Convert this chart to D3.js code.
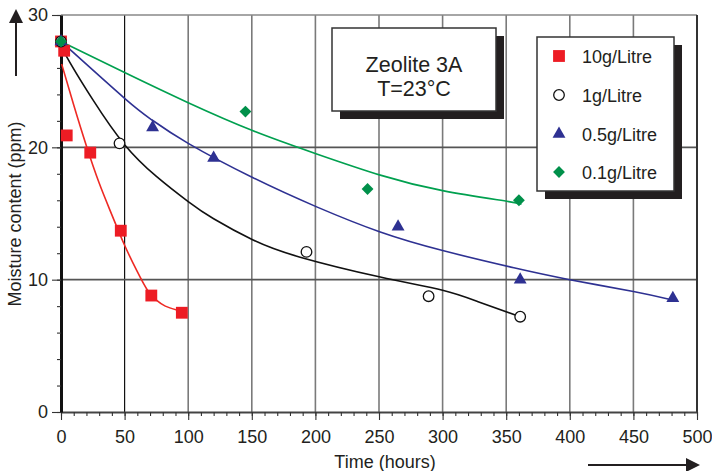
<!DOCTYPE html>
<html><head><meta charset="utf-8">
<script src="https://cdn.jsdelivr.net/npm/d3@7"></script>
<style>
html,body{margin:0;padding:0;background:#fff;}
svg{display:block;font-family:"Liberation Sans",Arial,Helvetica,sans-serif;}
</style></head><body>
<svg id="chart" width="712" height="471"></svg>
<script>
// Axis ticks
const xTickValues = [0, 50, 100, 150, 200, 250, 300, 350, 400, 450, 500];
const yTickValues = [0, 10, 20, 30];
const xLabel = "Time (hours)";
const yLabel = "Moisture content (ppm)";
const titleLines = ["Zeolite 3A", "T=23\u00b0C"];
const seriesLabels = ["10g/Litre", "1g/Litre", "0.5g/Litre", "0.1g/Litre"];

// Measured moisture content, [hours, ppm]
const points10 = [[0, 28], [2.5, 27.3], [4.5, 20.9], [23, 19.6], [47, 13.7], [71, 8.8], [95, 7.5]];
const points1 = [[0, 28], [46, 20.3], [193, 12.1], [289, 8.75], [361, 7.2]];
const points05 = [[0, 28], [72, 21.5], [120, 19.2], [265, 14.0], [361, 10.0], [481, 8.6]];
const points01 = [[0, 28], [145, 22.7], [241, 16.85], [360, 16.0]];

// Trend curves, [hours, ppm]
const trend10 = [[0.5, 26.3], [10, 23.2], [20, 20.1], [30, 17.3], [40, 14.9], [50, 12.6], [60, 10.6], [68, 9.2], [75, 8.45], [82, 8.0], [91, 7.7]];
const trend1 = [[0, 28], [3, 27.1], [25, 23.6], [50, 20.2], [75, 17.8], [100, 15.9], [120, 14.6], [151, 13.0], [188, 11.7], [251, 10.2], [300, 9.2], [329, 8.3], [361, 7.2]];
const trend05 = [[0, 28], [50, 23.7], [71, 22.1], [100, 20.3], [151, 17.7], [201, 15.5], [251, 13.6], [300, 12.2], [356, 10.9], [400, 10.0], [450, 9.1], [479, 8.5]];
const trend01 = [[0, 28], [50, 25.65], [100, 23.37], [151, 21.25], [201, 19.5], [251, 17.9], [300, 16.73], [352, 15.9], [361, 15.7]];

const svg = d3.select("#chart");
const x = d3.scaleLinear().domain([0, 500]).range([61, 697]);
const y = d3.scaleLinear().domain([0, 30]).range([412, 15]);

const styles = [
  {pts: points10, trend: trend10, line: "#ee2a24", fill: "#ed1c24", stroke: "none", shape: "square"},
  {pts: points1, trend: trend1, line: "#111", fill: "#fff", stroke: "#111", shape: "circle"},
  {pts: points05, trend: trend05, line: "#2e3192", fill: "#2e3192", stroke: "none", shape: "triangle"},
  {pts: points01, trend: trend01, line: "#00a04f", fill: "#00904a", stroke: "none", shape: "diamond"}
];

// Grid
const grid = svg.append("g");
grid.selectAll("line.v").data(xTickValues.filter(d => d > 0 && d < 500)).join("line")
  .attr("x1", d => x(d)).attr("x2", d => x(d)).attr("y1", y(30)).attr("y2", y(0))
  .attr("stroke", d => d === 50 ? "#111" : "#7a7a7a")
  .attr("stroke-width", d => d === 50 ? 1.2 : 1.6);
grid.selectAll("line.h").data(yTickValues.filter(d => d > 0 && d < 30)).join("line")
  .attr("x1", x(0)).attr("x2", x(500)).attr("y1", d => y(d)).attr("y2", d => y(d))
  .attr("stroke", "#555").attr("stroke-width", 1.6);
// top and right frame
grid.append("line").attr("x1", x(0)).attr("x2", x(500)).attr("y1", y(30)).attr("y2", y(30))
  .attr("stroke", "#888").attr("stroke-width", 1.6);
grid.append("line").attr("x1", x(500)).attr("x2", x(500)).attr("y1", y(30)).attr("y2", y(0))
  .attr("stroke", "#333").attr("stroke-width", 2);

// Boxes with drop shadows
function shadowBox(bx, by, bw, bh) {
  svg.append("rect").attr("x", bx + 8).attr("y", by + 8).attr("width", bw).attr("height", bh).attr("fill", "#231f20");
  svg.append("rect").attr("x", bx).attr("y", by).attr("width", bw).attr("height", bh)
    .attr("fill", "#fff").attr("stroke", "#333").attr("stroke-width", 1.5);
}
shadowBox(332, 28, 164, 83);
shadowBox(537, 37, 137, 154);

svg.append("text").attr("x", 414).attr("y", 72).attr("text-anchor", "middle")
  .attr("font-size", 21.5).attr("fill", "#231f20").text(titleLines[0]);
svg.append("text").attr("x", 414).attr("y", 96).attr("text-anchor", "middle")
  .attr("font-size", 21.5).attr("fill", "#231f20").text(titleLines[1]);

// Axes
const fmt = d3.format("d");
const xAxisG = svg.append("g").attr("transform", `translate(0,${y(0)})`)
  .call(d3.axisBottom(x).tickValues(xTickValues).tickSize(8).tickSizeOuter(0).tickPadding(10).tickFormat(fmt));
svg.append("g").attr("transform", `translate(0,${y(0)})`)
  .call(d3.axisBottom(x).tickValues(d3.range(0, 501, 10)).tickSize(4).tickSizeOuter(0).tickFormat(""))
  .call(g => g.select(".domain").remove());
const yAxisG = svg.append("g").attr("transform", `translate(${x(0)},0)`)
  .call(d3.axisLeft(y).tickValues(yTickValues).tickSize(9).tickSizeOuter(0).tickPadding(4).tickFormat(fmt));
svg.append("g").attr("transform", `translate(${x(0)},0)`)
  .call(d3.axisLeft(y).tickValues(d3.range(0, 31, 2)).tickSize(4).tickSizeOuter(0).tickFormat(""))
  .call(g => g.select(".domain").remove());

svg.selectAll(".tick line").attr("stroke", "#333").attr("stroke-width", 1.1);
svg.selectAll(".tick text").attr("font-size", 18).attr("fill", "#231f20")
  .attr("font-family", "'Liberation Sans',Arial,sans-serif");
xAxisG.select(".domain").attr("stroke", "#444").attr("stroke-width", 2);
yAxisG.select(".domain").attr("stroke", "#111").attr("stroke-width", 3);

// Axis titles and direction arrows
svg.append("text").attr("x", 385).attr("y", 468).attr("text-anchor", "middle")
  .attr("font-size", 18).attr("fill", "#231f20").text(xLabel);
svg.append("text").attr("transform", "translate(21,214) rotate(-90)").attr("text-anchor", "middle")
  .attr("font-size", 18).attr("fill", "#231f20").text(yLabel);

svg.append("line").attr("x1", 16).attr("x2", 16).attr("y1", 76).attr("y2", 22)
  .attr("stroke", "#231f20").attr("stroke-width", 2);
svg.append("path").attr("d", "M9,23L23,23L16,9Z").attr("fill", "#231f20");
svg.append("line").attr("x1", 588).attr("x2", 688).attr("y1", 465).attr("y2", 465)
  .attr("stroke", "#231f20").attr("stroke-width", 2);
svg.append("path").attr("d", "M686,458L686,472L700,465Z").attr("fill", "#231f20");

// Trend curves
const line = d3.line().x(d => x(d[0])).y(d => y(d[1])).curve(d3.curveNatural);
styles.forEach(s => {
  svg.append("path").datum(s.trend).attr("d", line)
    .attr("fill", "none").attr("stroke", s.line).attr("stroke-width", 1.6);
});

// Markers
function symbolFor(shape) {
  if (shape === "square") return d3.symbol(d3.symbolSquare, 140);
  if (shape === "circle") return d3.symbol(d3.symbolCircle, 88);
  if (shape === "triangle") return d3.symbol(d3.symbolTriangle, 72);
  return d3.symbol(d3.symbolSquare, 70);
}
function drawMarker(sel, s) {
  sel.attr("d", symbolFor(s.shape)())
    .attr("fill", s.fill).attr("stroke", s.stroke).attr("stroke-width", s.shape === "circle" ? 1.3 : 0);
}
styles.forEach(s => {
  svg.append("g").selectAll("path").data(s.pts).join("path")
    .call(sel => drawMarker(sel, s))
    .attr("transform", d => `translate(${x(d[0])},${y(d[1])})` + (s.shape === "diamond" ? " rotate(45)" : ""));
});

// Legend
const legendRows = [56, 95, 134, 172];
styles.forEach((s, i) => {
  svg.append("path").call(sel => drawMarker(sel, s))
    .attr("transform", `translate(559,${legendRows[i]})` + (s.shape === "diamond" ? " rotate(45)" : ""));
  svg.append("text").attr("x", 582).attr("y", legendRows[i] + 6.5)
    .attr("font-size", 18).attr("fill", "#231f20").text(seriesLabels[i]);
});
</script>
</body></html>
